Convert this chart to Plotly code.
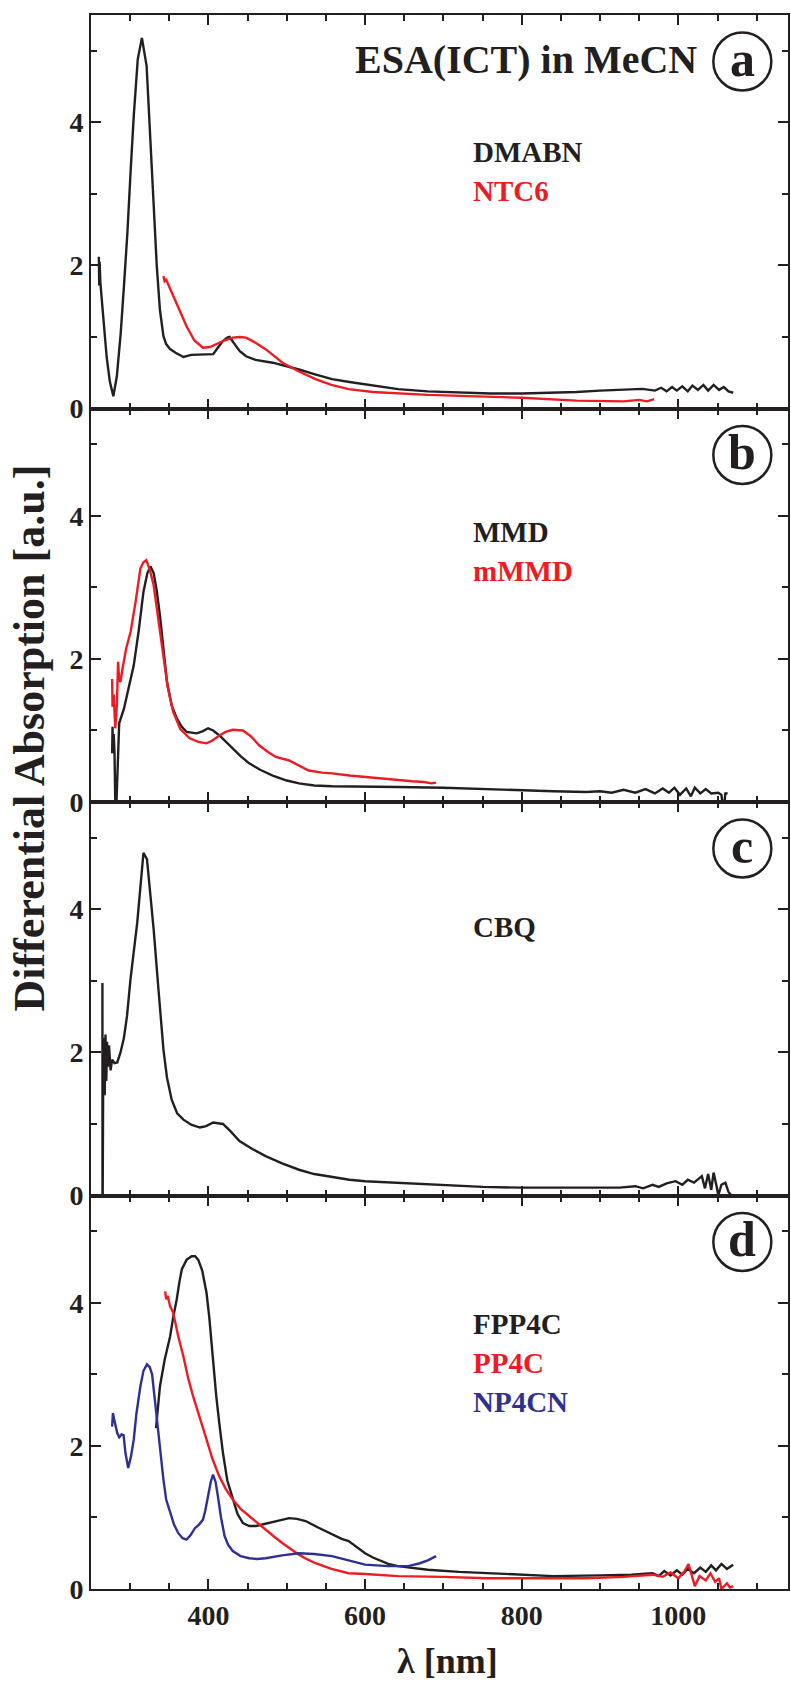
import plotly.graph_objects as go
from plotly.subplots import make_subplots

# ---------------- data ----------------
# Panel a
dmabn_x = [260, 260.5, 261, 262, 266, 270, 274, 278.5, 283, 288, 292, 296.5, 300.5, 304.6, 309.7, 315, 321, 327.5,
           334, 338, 342.5, 346, 351, 358, 368, 378, 389, 398, 406, 412, 418, 424, 427, 432, 440, 448, 460, 482,
           500, 515.6, 535, 557.7, 580, 600, 620, 642, 680, 720, 760, 800, 840, 870, 900, 930, 954, 970, 978,
           985, 992, 998, 1005, 1012, 1018, 1025, 1032, 1038, 1045, 1052, 1058, 1064, 1070]
dmabn_y = [2.12, 1.72, 2.05, 1.75, 1.2, 0.72, 0.38, 0.17, 0.45, 1.06, 1.7, 2.46, 3.3, 4.09, 4.88, 5.18, 4.79, 3.39,
           1.99, 1.38, 1.01, 0.9, 0.83, 0.78, 0.72, 0.75, 0.755, 0.75, 0.76, 0.85, 0.94, 0.99, 1.0, 0.92, 0.8, 0.73,
           0.68, 0.64, 0.59, 0.545, 0.48, 0.41, 0.37, 0.34, 0.31, 0.27, 0.24, 0.22, 0.21, 0.21, 0.22, 0.23, 0.25,
           0.26, 0.275, 0.25, 0.29, 0.24, 0.3, 0.25, 0.31, 0.24, 0.32, 0.26, 0.33, 0.25, 0.33, 0.26, 0.3, 0.24, 0.22]

ntc6_x = [342.5, 344, 346, 350, 355, 362, 372, 382, 393, 402, 410, 420, 431, 440, 448, 460, 473, 484, 494.6, 515,
          536.7, 557, 579, 610, 642, 680, 743, 800, 870, 900, 930, 950, 960, 969]
ntc6_y = [1.85, 1.78, 1.8, 1.7, 1.6, 1.4, 1.15, 0.95, 0.85, 0.86, 0.9, 0.95, 0.99, 1.0, 0.99, 0.92, 0.83, 0.73, 0.64,
          0.52, 0.41, 0.33, 0.27, 0.23, 0.21, 0.19, 0.17, 0.15, 0.11, 0.11, 0.1, 0.12, 0.1, 0.13]

# Panel b
mmd_x = [277, 277.5, 278, 279, 280, 281.5, 283, 286, 292, 298, 304.6, 311, 317, 322, 326, 330, 334, 338, 342.5, 347,
         353, 359.5, 366, 372, 385, 393, 399.5, 406, 414, 422, 431, 441, 452, 466, 482, 500, 515.6, 535, 557.7, 600,
         642, 700, 750, 798, 840, 882.7, 900, 915, 930, 945, 958, 970, 980, 988, 995, 1002, 1010, 1016, 1021, 1028,
         1035, 1042, 1051, 1055, 1057.7, 1060, 1063]
mmd_y = [0.68, 1.05, 0.75, 0.95, 0.7, -0.33, 0.2, 1.1, 1.3, 1.6, 1.91, 2.4, 2.94, 3.2, 3.29, 3.2, 2.95, 2.61, 2.1,
         1.68, 1.35, 1.17, 1.05, 0.98, 0.96, 0.99, 1.03, 1.0, 0.93, 0.84, 0.75, 0.64, 0.54, 0.45, 0.37, 0.3, 0.26,
         0.23, 0.22, 0.21, 0.21, 0.2, 0.18, 0.16, 0.15, 0.14, 0.15, 0.13, 0.17, 0.13, 0.18, 0.12, 0.19, 0.13, 0.2,
         0.1, 0.19, 0.08, 0.2, 0.12, 0.18, 0.12, 0.13, 0.1, -0.14, 0.12, 0.12]

mmmd_x = [277, 277.5, 279, 281, 283, 284.6, 286, 287.7, 290, 295, 300.6, 307, 313, 317, 320.6, 325, 330, 336, 342.5,
          348, 355, 364, 376, 387, 397.5, 405, 414, 422, 431, 444, 454, 465, 476, 486, 503, 515, 528, 545, 557.7,
          580, 600, 620, 642, 660, 675, 685, 690.7]
mmmd_y = [1.72, 1.33, 1.5, 1.03, 1.35, 1.96, 1.7, 1.68, 1.85, 2.15, 2.38, 2.8, 3.26, 3.35, 3.38, 3.25, 3.03, 2.55,
          2.0, 1.6, 1.26, 1.02, 0.89, 0.84, 0.82, 0.86, 0.93, 0.98, 1.01, 1.0, 0.92, 0.79, 0.7, 0.63, 0.58, 0.51,
          0.44, 0.41, 0.4, 0.37, 0.35, 0.33, 0.3, 0.29, 0.28, 0.26, 0.27]

# Panel c
cbq_x = [264.6, 264.7, 265.5, 266.5, 267.5, 268.5, 269.5, 270.5, 271.5, 273, 275, 277, 280, 283.5, 287.7, 292, 296,
         300.4, 305, 309, 313, 317, 321.5, 325, 330, 336, 342.5, 347, 353, 360, 368, 378, 389, 397, 406, 412,
         418.5, 428, 439.6, 456, 473, 494, 515.6, 535, 557.7, 580, 600, 642, 700, 750, 798, 860, 924.6, 945, 955,
         967, 975, 985, 996.5, 1005, 1012, 1020, 1025, 1030, 1034, 1038, 1042, 1045, 1049, 1051, 1055, 1060,
         1064, 1068]
cbq_y = [2.97, -0.62, 1.5, 2.2, 1.4, 2.25, 1.6, 2.15, 1.8, 2.1, 1.75, 1.9, 1.85, 1.86, 2.0, 2.2, 2.51, 3.02, 3.4,
         3.81, 4.3, 4.79, 4.7, 4.3, 3.72, 2.9, 2.04, 1.65, 1.34, 1.15, 1.06, 0.99, 0.95, 0.97, 1.02, 1.01, 1.0, 0.9,
         0.76, 0.65, 0.55, 0.45, 0.36, 0.3, 0.26, 0.22, 0.2, 0.18, 0.15, 0.12, 0.11, 0.11, 0.11, 0.13, 0.1, 0.15,
         0.12, 0.17, 0.2, 0.15, 0.22, 0.18, 0.23, 0.27, 0.1, 0.3, 0.08, 0.32, 0.12, 0.0, 0.15, 0.18, 0.05, 0.0]

# Panel d
fpp4c_x = [333, 336, 338, 344, 351, 355, 359.5, 363, 366, 372, 378.5, 383, 387, 392, 397.5, 401, 404, 407, 410, 414,
           418.5, 424, 431, 437, 444, 452, 460.7, 469, 477.6, 490, 503, 513, 524, 540, 557.7, 570, 579, 590, 600,
           610, 621, 629.5, 642, 680, 720, 760, 798, 840, 900, 940, 967, 975, 982, 990, 998, 1005, 1012, 1020,
           1028, 1035, 1042, 1048, 1055, 1062, 1070]
fpp4c_y = [2.25, 2.6, 2.83, 3.2, 3.53, 3.8, 4.05, 4.3, 4.47, 4.6, 4.65, 4.65, 4.6, 4.45, 4.14, 3.8, 3.39, 3.0, 2.69,
           2.3, 1.9, 1.52, 1.25, 1.05, 0.92, 0.88, 0.88, 0.9, 0.92, 0.96, 0.99, 0.98, 0.95, 0.86, 0.76, 0.7, 0.67,
           0.58, 0.5, 0.44, 0.39, 0.35, 0.32, 0.27, 0.24, 0.22, 0.2, 0.18, 0.19, 0.2, 0.22, 0.18, 0.25, 0.19, 0.26,
           0.2, 0.28, 0.22, 0.3, 0.24, 0.33, 0.26, 0.35, 0.28, 0.34]

pp4c_x = [344.7, 346, 348, 351, 355, 361, 368, 374, 380.5, 389, 397.5, 405, 414, 422, 431, 441, 452, 462, 473, 484,
          494.6, 505, 515.6, 525, 536.7, 557, 579, 600, 621, 642, 700, 756, 800, 840, 882.7, 930, 967, 980, 990,
          1000, 1008, 1013, 1018, 1021, 1027, 1035, 1041, 1047, 1052, 1055, 1062, 1066, 1070]
pp4c_y = [4.16, 4.05, 4.1, 3.95, 3.86, 3.55, 3.25, 2.95, 2.69, 2.4, 2.09, 1.82, 1.57, 1.4, 1.25, 1.12, 1.02, 0.92,
          0.83, 0.73, 0.64, 0.56, 0.48, 0.42, 0.36, 0.28, 0.22, 0.21, 0.2, 0.18, 0.17, 0.15, 0.15, 0.15, 0.15, 0.17,
          0.2, 0.17, 0.23, 0.15, 0.25, 0.35, 0.15, 0.04, 0.18, 0.12, 0.22, 0.1, 0.15, 0.0, 0.08, 0.02, 0.04]

np4cn_x = [277, 278, 280, 283.5, 286, 289, 291.6, 294, 297.5, 301, 304.6, 308, 313, 317, 321.5, 325, 328, 331, 334,
           338, 342.5, 346, 351, 356, 361.5, 367, 372, 377, 382.7, 388, 393, 396, 399.5, 403, 405.8, 409, 412, 416,
           420.6, 425, 431, 441, 452, 462, 473, 494, 515.6, 535, 557.7, 580, 600, 629.5, 655, 670, 680, 690.7]
np4cn_y = [2.27, 2.46, 2.35, 2.18, 2.12, 2.16, 2.15, 1.9, 1.69, 1.85, 2.09, 2.45, 2.83, 3.05, 3.14, 3.1, 3.0, 2.7,
           2.37, 1.95, 1.53, 1.25, 1.06, 0.9, 0.78, 0.71, 0.69, 0.75, 0.85, 0.9, 0.97, 1.1, 1.3, 1.5, 1.6, 1.5, 1.3,
           1.0, 0.74, 0.62, 0.53, 0.46, 0.43, 0.42, 0.43, 0.47, 0.5, 0.49, 0.46, 0.4, 0.34, 0.32, 0.32, 0.36, 0.4,
           0.46]

panel_letters = ["a", "b", "c", "d"]
panel_labels = [["DMABN", "NTC6"], ["MMD", "mMMD"], ["CBQ"], ["FPP4C", "PP4C", "NP4CN"]]
title_text = "ESA(ICT) in MeCN"
x_title = "λ [nm]"
y_title = "Differential Absorption [a.u.]"
x_tickvals = [400, 600, 800, 1000]
y_tickvals = [0, 2, 4]

# ---------------- styling ----------------
BLACK = "#231f20"
RED = "#ed1c24"
BLUE = "#2e3192"
FONT = "Liberation Serif, Times New Roman, serif"

fig = make_subplots(rows=4, cols=1, shared_xaxes=True, vertical_spacing=0)

series = [
    (1, dmabn_x, dmabn_y, BLACK), (1, ntc6_x, ntc6_y, RED),
    (2, mmd_x, mmd_y, BLACK), (2, mmmd_x, mmmd_y, RED),
    (3, cbq_x, cbq_y, BLACK),
    (4, fpp4c_x, fpp4c_y, BLACK), (4, pp4c_x, pp4c_y, RED), (4, np4cn_x, np4cn_y, BLUE),
]
for row, xs, ys, col in series:
    fig.add_trace(go.Scatter(x=xs, y=ys, mode="lines", line=dict(color=col, width=2.4),
                             showlegend=False, hoverinfo="skip"), row=row, col=1)

label_colors = [[BLACK, RED], [BLACK, RED], [BLACK], [BLACK, RED, BLUE]]
label_y0 = [3.58, 3.78, 3.75, 3.70]
label_step = 0.545
label_x = 735
circle_x = 1081.7
circle_y = 4.85

for i in range(4):
    xr = "x" if i == 0 else f"x{i+1}"
    yr = "y" if i == 0 else f"y{i+1}"
    for j, (txt, c) in enumerate(zip(panel_labels[i], label_colors[i])):
        fig.add_annotation(x=label_x, y=label_y0[i] - j * label_step, xref=xr, yref=yr, text=txt,
                           showarrow=False, xanchor="left", yanchor="middle",
                           font=dict(family=FONT, size=29, color=c, weight="bold"))
    fig.add_shape(type="circle", xref=xr, yref=yr, xsizemode="pixel", ysizemode="pixel",
                  xanchor=circle_x, yanchor=circle_y, x0=-29, x1=29, y0=-29, y1=29,
                  line=dict(color=BLACK, width=2.5))
    fig.add_annotation(x=circle_x, y=circle_y, xref=xr, yref=yr, text=panel_letters[i],
                       showarrow=False, xanchor="center", yanchor="middle", yshift=3,
                       font=dict(family=FONT, size=50, color=BLACK, weight="bold"))

fig.add_annotation(x=1026, y=4.88, xref="x", yref="y", text=title_text, showarrow=False,
                   xanchor="right", yanchor="middle",
                   font=dict(family=FONT, size=40, color=BLACK, weight="bold"))

fig.add_annotation(x=-0.089, y=0.541, xref="paper", yref="paper", text=y_title, textangle=-90,
                   showarrow=False, xanchor="center", yanchor="middle",
                   font=dict(family=FONT, size=44, color=BLACK, weight="bold"))
fig.add_annotation(x=0.512, y=-0.0595, xref="paper", yref="paper", text=x_title,
                   showarrow=False, xanchor="center", yanchor="bottom",
                   font=dict(family=FONT, size=36, color=BLACK, weight="bold"))

for r in range(1, 5):
    fig.update_xaxes(range=[250, 1140], tickvals=x_tickvals, ticks="inside", ticklen=10, tickwidth=2,
                     tickcolor=BLACK, showline=True, linewidth=2, linecolor=BLACK, mirror="ticks",
                     showgrid=False, zeroline=False,
                     minor=dict(tickvals=list(range(250, 1141, 50)), ticks="inside", ticklen=6,
                                tickwidth=2, tickcolor=BLACK, showgrid=False),
                     tickfont=dict(family=FONT, size=28, color=BLACK, weight="bold"),
                     row=r, col=1)
    fig.update_yaxes(range=[0, 5.5], tickvals=y_tickvals, ticks="inside", ticklen=10, tickwidth=2,
                     tickcolor=BLACK, showline=True, linewidth=2, linecolor=BLACK, mirror="ticks",
                     showgrid=False, zeroline=False,
                     minor=dict(tickvals=[1, 3, 5], ticks="inside", ticklen=6, tickwidth=2,
                                tickcolor=BLACK, showgrid=False),
                     tickfont=dict(family=FONT, size=28, color=BLACK, weight="bold"),
                     row=r, col=1)

fig.update_layout(width=791, height=1683, margin=dict(l=91, r=1, t=15, b=94),
                  plot_bgcolor="white", paper_bgcolor="white", showlegend=False)

fig.write_html("out.html")
